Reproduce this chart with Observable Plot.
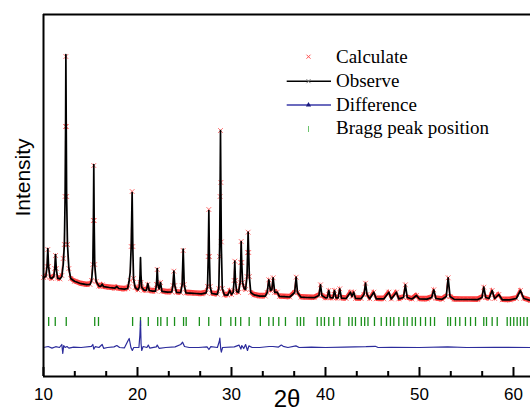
<!DOCTYPE html>
<html>
<head>
<meta charset="utf-8">
<script src="https://cdn.jsdelivr.net/npm/d3@7"></script>
<script src="https://cdn.jsdelivr.net/npm/@observablehq/plot@0.6"></script>
<style>
  html, body { margin: 0; padding: 0; background: #fff; overflow: hidden; }
  #wrap { position: relative; width: 530px; height: 412px; }
  #legend { position: absolute; left: 0; top: 0; pointer-events: none; }
</style>
</head>
<body>
<div id="wrap"></div>
<script>
// ---- data ----
const twoTheta = [10.0,10.25,10.38,10.46,10.54,10.7,10.85,11.1,11.2,11.28,11.36,11.5,11.75,11.95,12.1,12.22,12.3,12.35,12.38,12.42,12.46,12.55,12.7,12.9,13.3,14.0,14.6,14.95,15.12,15.25,15.31,15.35,15.39,15.45,15.6,15.9,16.1,16.24,16.4,17.0,17.6,17.8,18.0,18.6,18.95,19.1,19.22,19.33,19.43,19.5,19.58,19.75,20.05,20.2,20.27,20.32,20.37,20.45,20.7,20.95,21.1,21.25,21.6,21.92,22.02,22.1,22.18,22.3,22.45,22.6,23.2,23.65,23.77,23.87,23.97,24.15,24.6,24.75,24.86,24.97,25.15,25.6,26.2,26.8,27.3,27.45,27.53,27.59,27.65,27.73,27.9,28.5,28.65,28.74,28.79,28.83,28.87,28.92,29.02,29.25,29.6,29.82,30.0,30.18,30.28,30.35,30.42,30.55,30.75,30.92,30.98,31.03,31.09,31.18,31.35,31.5,31.65,31.72,31.77,31.83,31.9,32.05,32.4,33.0,33.6,33.8,33.97,34.15,34.3,34.43,34.6,34.86,35.1,35.6,36.2,36.72,36.88,37.02,37.4,38.0,38.8,39.3,39.47,39.62,40.0,40.2,40.35,40.5,40.8,40.96,41.12,41.35,41.52,41.7,42.2,42.66,42.82,43.0,43.2,43.8,44.1,44.26,44.42,44.7,45.14,45.4,46.2,46.74,47.0,47.55,47.8,48.3,48.5,48.7,49.2,49.68,50.0,50.8,51.3,51.52,51.75,52.4,52.85,53.05,53.25,53.7,54.5,55.3,56.2,56.65,56.84,57.05,57.4,57.73,58.0,58.44,58.8,59.6,60.3,60.74,61.1,61.8];

const observed = [4950,5000,5500,6400,5500,4950,4900,5000,5400,6100,5400,4920,4880,5000,5600,6600,9000,12500,16100,12500,9000,6600,5400,4900,4760,4640,4590,4600,4800,5600,7800,10600,7800,5600,4750,4520,4510,4620,4490,4450,4420,4500,4400,4370,4400,4750,5200,6500,9200,6500,4900,4450,4330,4480,5100,5950,5100,4450,4320,4310,4650,4300,4270,4270,4600,5400,4600,4380,4700,4260,4220,4230,4550,5265,4550,4210,4190,4600,6375,4600,4180,4170,4150,4130,4180,4500,6000,8300,6000,4500,4150,4110,4400,6500,9500,12300,9500,6500,4400,4080,4070,4300,4100,4200,4800,5765,4800,4250,4200,4700,5700,6750,5700,4700,4400,4350,5000,6200,7215,6200,5000,4200,4080,4020,4020,4200,4835,4300,4350,4935,4200,4215,4000,3990,3975,4200,4965,4200,3965,3950,3940,4050,4585,4050,3930,3940,4300,3940,3930,4300,3930,3930,4385,3920,3900,4215,4000,4215,3900,3895,4100,4665,4100,3890,4215,3885,3880,4215,3880,4215,3880,3950,4585,3950,3875,4050,3875,3870,3950,4335,3900,3860,4000,4935,4000,3855,3850,3850,3845,3950,4465,3950,3900,4300,3900,4100,3835,3830,3900,4300,3900,3800];

const calculated = [4950,5000,5500,6350,5500,4950,4900,5000,5400,6050,5400,4920,4880,5050,5900,6600,9000,12500,16000,12500,9000,6600,5400,4900,4760,4640,4590,4600,4800,5600,7800,10550,7800,5600,4750,4520,4510,4580,4490,4450,4420,4450,4400,4370,4400,4500,4800,6500,9250,6500,4900,4450,4330,4480,4700,4600,4700,4450,4320,4310,4600,4300,4270,4270,4600,5350,4600,4380,4700,4260,4220,4230,4550,5265,4550,4210,4190,4550,6300,4600,4180,4170,4150,4130,4180,4500,6000,8350,6000,4500,4150,4110,4400,6000,9000,12300,9700,6730,4400,4080,4070,4300,4100,4200,4800,5765,4800,4250,4200,4700,5700,6750,5700,4700,4400,4350,5000,6200,7215,6200,5000,4200,4080,4020,4020,4200,4835,4300,4350,4935,4200,4215,4000,3990,3975,4200,4965,4200,3965,3950,3940,4050,4585,4050,3930,3940,4300,3940,3930,4300,3930,3930,4385,3920,3900,4215,4000,4215,3900,3895,4100,4665,4100,3890,4215,3885,3880,4215,3880,4215,3880,3950,4585,3950,3875,4050,3875,3870,3950,4335,3900,3860,4000,4935,4000,3855,3850,3850,3845,3950,4465,3950,3900,4300,3900,4100,3835,3830,3900,4300,3900,3800];

// difference (obs - calc), drawn with an offset below the pattern
const diffTheta = [10.0,10.5,10.9,11.3,11.7,11.95,12.05,12.15,12.3,12.5,12.7,13.2,14.0,15.1,15.25,15.35,15.5,15.9,16.24,16.4,16.8,17.5,17.8,18.1,18.6,19.0,19.12,19.3,19.45,19.6,20.15,20.25,20.32,20.38,20.45,20.6,21.0,21.15,21.3,22.0,22.1,22.3,23.0,24.0,24.6,24.8,25.0,25.5,26.5,27.4,27.6,27.8,28.5,28.7,28.76,28.86,28.92,29.05,30.3,30.8,31.0,31.1,31.3,31.5,31.7,31.85,32.2,33.0,34.0,34.4,35.0,35.3,35.5,36.0,36.85,37.2,38.5,40.0,42.0,44.3,45.3,45.6,47.0,50.0,53.0,55.0,58.0,61.8];
const diffValues = [0,50,-30,40,0,150,-300,100,0,50,-30,20,0,60,150,-80,40,0,150,-40,0,30,100,0,-20,350,450,0,-150,0,0,600,1350,200,-150,50,0,120,-30,30,120,-40,0,30,150,265,50,0,0,30,-100,40,0,300,465,-100,-235,0,30,120,-80,100,-50,150,-150,80,0,0,50,50,20,120,60,0,80,0,20,0,20,40,60,0,10,0,30,0,10,0];

// Bragg reflection positions (2θ)
const braggPeaks = [10.55,11.25,12.42,15.45,15.85,19.48,20.32,21.15,22.15,22.48,23.16,23.94,24.9,25.18,26.58,27.58,28.85,29.93,30.43,30.98,31.88,33.07,33.97,34.44,35.03,35.74,36.99,37.34,37.69,39.12,39.54,39.89,40.35,40.88,41.52,42.48,42.84,43.19,43.81,44.17,44.52,45.21,45.93,46.49,46.91,47.27,47.8,48.33,48.69,49.22,49.57,50.11,50.64,51.17,51.6,53.01,53.3,53.83,54.29,54.89,55.43,55.96,56.84,57.13,57.73,58.27,59.33,59.68,60.03,60.39,60.74,61.1,61.46];

const majorTicks = [10, 20, 30, 40, 50, 60];
const minorTicks = [13.33, 16.67, 23.33, 26.67, 33.33, 36.67, 43.33, 46.67, 53.33, 56.67];

const legendLabels = ["Calculate", "Observe", "Difference", "Bragg peak position"];
const yTitle = "Intensity";
const xTitle = "2θ";

// ---- layout constants ----
const diffOffset = 1450;
const braggLow = 2500, braggHigh = 2950;
const bandHalf = 140;  // half-thickness of the dense red marker band (y units)
const xDomain = [10, 61.81];
const yDomain = [0, 18100];

const pattern = twoTheta.map((t, i) => ({t, obs: observed[i], calc: calculated[i]}));
const diff = diffTheta.map((t, i) => ({t, d: diffValues[i] + diffOffset}));

const chart = Plot.plot({
  width: 530,
  height: 412,
  marginLeft: 43,
  marginRight: 0,
  marginTop: 14,
  marginBottom: 36,
  style: {fontFamily: "'Liberation Sans', Arial, sans-serif", background: "#fff", overflow: "hidden"},
  x: {domain: xDomain, label: null},
  y: {domain: yDomain, axis: null, label: null},
  marks: [
    // Bragg ticks
    Plot.ruleX(braggPeaks, {x: d => d, y1: braggLow, y2: braggHigh, stroke: "#1a8f1a", strokeWidth: 1.3}),
    // difference
    Plot.line(diff, {x: "t", y: "d", stroke: "#2c2c9c", strokeWidth: 1.2}),
    // calculated (dense red band + x markers)
    Plot.areaY(pattern, {x: "t", y1: d => d.calc - bandHalf, y2: d => d.calc + bandHalf, fill: "#ff1a1a", fillOpacity: 0.85}),
    Plot.dot(pattern, {x: "t", y: "calc", symbol: "times", r: 2.3, stroke: "#ff5a5a", strokeOpacity: 0.85, strokeWidth: 1}),
    // observed
    Plot.line(pattern, {x: "t", y: "obs", stroke: "#000", strokeWidth: 1.7}),
    // frame: top, left, bottom
    Plot.ruleY([yDomain[1]], {stroke: "#000", strokeWidth: 2}),
    Plot.ruleX([xDomain[0]], {stroke: "#000", strokeWidth: 2}),
    Plot.ruleY([yDomain[0]], {stroke: "#000", strokeWidth: 2}),
    // axis ticks (inward) and labels
    Plot.axisX(majorTicks, {anchor: "bottom", tickSize: -9, strokeWidth: 2, tickFormat: () => "", label: null}),
    Plot.axisX(minorTicks, {anchor: "bottom", tickSize: -5, strokeWidth: 2, tickFormat: () => "", label: null}),
    Plot.axisX(majorTicks, {anchor: "bottom", tickSize: 0, tickPadding: 11, fontSize: 17, fill: "#000", label: null}),
    // x title
    Plot.text([xTitle], {frameAnchor: "bottom", text: d => d, fontSize: 24, lineAnchor: "top", dy: 13, fill: "#000"})
  ]
});

const wrap = document.getElementById("wrap");
wrap.appendChild(chart);

// ---- overlay: y title and legend ----
const lg = d3.select(wrap).append("svg")
  .attr("id", "legend").attr("width", 530).attr("height", 412);

lg.append("text")
  .attr("transform", "translate(29.5,177.5) rotate(-90)")
  .attr("text-anchor", "middle")
  .attr("font-family", "'Liberation Sans', Arial, sans-serif")
  .attr("font-size", 21).attr("fill", "#000")
  .text(yTitle);

const rows = [
  {label: legendLabels[0], base: 63.3, cy: 56.7},
  {label: legendLabels[1], base: 87.0, cy: 81.2},
  {label: legendLabels[2], base: 110.7, cy: 105},
  {label: legendLabels[3], base: 134.4, cy: 129}
];
lg.selectAll("text.lab").data(rows).join("text")
  .attr("class", "lab")
  .attr("x", 336).attr("y", d => d.base)
  .attr("font-family", "'Liberation Serif', 'Times New Roman', serif")
  .attr("font-size", 19).attr("fill", "#000")
  .text(d => d.label);
const cx = 308.5;
// Calculate: red x
lg.append("path").attr("d", `M${cx-2},${rows[0].cy-2}L${cx+2},${rows[0].cy+2}M${cx-2},${rows[0].cy+2}L${cx+2},${rows[0].cy-2}`)
  .attr("stroke", "#ff5050").attr("stroke-width", 1);
// Observe: black line with small x
lg.append("line").attr("x1", 286.7).attr("x2", 331).attr("y1", rows[1].cy).attr("y2", rows[1].cy)
  .attr("stroke", "#000").attr("stroke-width", 1.5);
lg.append("path").attr("d", `M${cx-2},${rows[1].cy-2}L${cx+2},${rows[1].cy+2}M${cx-2},${rows[1].cy+2}L${cx+2},${rows[1].cy-2}`)
  .attr("stroke", "#777").attr("stroke-width", 1);
// Difference: blue line with triangle
lg.append("line").attr("x1", 286.7).attr("x2", 331).attr("y1", rows[2].cy).attr("y2", rows[2].cy)
  .attr("stroke", "#3a3aa8").attr("stroke-width", 1.3);
lg.append("path").attr("d", `M${cx},${rows[2].cy-3}L${cx+2.6},${rows[2].cy+1.5}L${cx-2.6},${rows[2].cy+1.5}Z`)
  .attr("fill", "#1a1a80");
// Bragg: green tick
lg.append("line").attr("x1", cx).attr("x2", cx).attr("y1", rows[3].cy - 3).attr("y2", rows[3].cy + 3)
  .attr("stroke", "#6cc46c").attr("stroke-width", 1);
</script>
</body>
</html>
